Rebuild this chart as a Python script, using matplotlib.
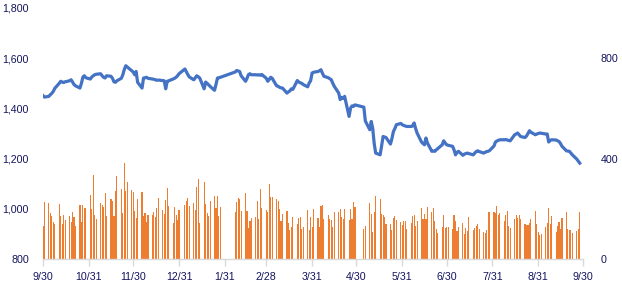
import numpy as np
import pandas as pd
import matplotlib
matplotlib.use("Agg")
import matplotlib.pyplot as plt
import matplotlib.ticker as mticker

plt.rcParams["font.family"] = ["Liberation Sans", "DejaVu Sans"]

# trading calendar: weekdays minus market holidays
start_date = "2021-09-30"
end_date = "2022-09-28"
holidays = ["2022-01-03", "2022-01-31", "2022-02-01", "2022-02-02", "2022-02-03",
            "2022-02-04", "2022-05-02", "2022-05-03", "2022-05-04"]

# closing price (left axis), one row per week
price = [
    1451, 1445,
    1448, 1455, 1460, 1468, 1480,
    1500, 1508, 1505, 1503, 1506,
    1510, 1514, 1505, 1495, 1490,
    1481, 1500, 1525, 1530, 1522,
    1517, 1525, 1530, 1534, 1536,
    1538, 1530, 1524, 1521, 1530,
    1528, 1520, 1506, 1504, 1510,
    1520, 1534, 1555, 1570, 1565,
    1550, 1545, 1534, 1547, 1504,
    1481, 1521, 1522, 1524, 1520,
    1517, 1516, 1514, 1512, 1513,
    1511, 1510, 1478, 1508, 1510,
    1517, 1520, 1524, 1530, 1538,
    1557, 1545, 1534, 1525,
    1514, 1522, 1530, 1526, 1521,
    1478, 1505, 1500, 1494, 1488,
    1472, 1495, 1521, 1522, 1524,
    1545, 1551, 1549, 1547, 1530,
    1508, 1520, 1535, 1538, 1534,
    1534, 1533, 1534, 1532, 1535,
    1520, 1508, 1515, 1524, 1520,
    1490, 1488, 1484, 1482, 1481,
    1461, 1466, 1470, 1478, 1476,
    1511, 1505, 1502, 1500, 1495,
    1486, 1501, 1510, 1541, 1544,
    1547, 1550, 1554, 1540, 1528,
    1522, 1518, 1514, 1500, 1488,
    1461, 1435, 1444, 1440, 1448,
    1368, 1401, 1410, 1408, 1414,
    1405, 1350,
    1315, 1348, 1320, 1260, 1222,
    1215, 1250, 1288, 1286, 1284,
    1258, 1280, 1308, 1320, 1335,
    1340, 1335, 1332, 1330, 1328,
    1328, 1330, 1342, 1320, 1302,
    1266, 1260, 1255, 1282, 1262,
    1229, 1230, 1229, 1235, 1240,
    1255, 1271, 1262, 1255, 1253,
    1249, 1235, 1215, 1225, 1229,
    1213, 1218, 1220, 1222, 1220,
    1215, 1222, 1228, 1231, 1228,
    1222, 1225, 1228, 1229, 1232,
    1250, 1266, 1270, 1273, 1275,
    1275, 1276, 1274, 1272, 1271,
    1295, 1298, 1302, 1295, 1288,
    1284, 1290, 1300, 1311, 1305,
    1295, 1298, 1300, 1302, 1301,
    1298, 1298, 1266, 1272, 1275,
    1274, 1271, 1268, 1260, 1249,
    1231, 1230, 1229, 1222, 1215,
    1198, 1190, 1182,
]

# volume (right axis), same rows
volume = [
    131, 227,
    223, 183, 170, 147, 139,
    219, 170, 139, 175, 155,
    171, 147, 187, 167, 131,
    215, 147, 215, 203, 203,
    255, 199, 334, 175, 159,
    223, 215, 207, 263, 171,
    239, 231, 171, 271, 330,
    279, 183, 382, 271, 307,
    275, 267, 191, 163, 239,
    267, 171, 183, 147, 175,
    175, 187, 167, 203, 243,
    195, 179, 235, 283, 211,
    143, 207, 175, 155, 195,
    215, 231, 243, 211,
    223, 195, 287, 318, 143,
    307, 219, 183, 171, 231,
    251, 203, 251, 171, 207,
    187, 227, 243, 239, 191,
    263, 191, 123, 151, 163,
    167, 231, 159, 279, 203,
    195, 187, 299, 247, 247,
    239, 231, 199, 151, 179,
    191, 143, 115, 127, 167,
    139, 163, 167, 119, 127,
    195, 115, 167, 127, 199,
    163, 127, 211, 215, 159,
    175, 159, 155, 127, 187,
    187, 199, 167, 159, 199,
    155, 199, 159, 227, 207,
    119, 131,
    223, 179, 107, 187, 251,
    240, 179, 175, 167, 139,
    139, 115, 163, 171, 155,
    147, 135, 151, 151, 119,
    143, 171, 175, 131, 151,
    203, 159, 179, 159, 207,
    187, 203, 151, 119, 103,
    127, 175, 123, 127, 127,
    119, 175, 151, 111, 127,
    143, 100, 123, 111, 167,
    115, 123, 131, 139, 119,
    107, 103, 115, 187, 187,
    187, 183, 211, 175, 183,
    151, 175, 191, 131, 123,
    159, 175, 163, 175, 159,
    139, 135, 135, 143, 159,
    191, 139, 107, 95, 100,
    127, 143, 203, 139, 171,
    107, 131, 147, 119, 163,
    187, 119, 115, 115, 103,
    112, 120, 187,
]

dates = pd.bdate_range(start_date, end_date)
dates = dates[~dates.isin(pd.to_datetime(holidays))]
df = pd.DataFrame({"price": price, "volume": volume}, index=dates)

tick_dates = pd.date_range("2021-09-30", "2022-09-30", freq="ME")

text_col = "#14145e"
line_col = "#4472C4"
bar_col = "#ED7D31"
axis_col = "#d9d9d9"

fig = plt.figure(figsize=(6.22, 3.05), dpi=100)
ax2 = fig.add_axes([0.0691, 0.1508, 0.8677, 0.823])
ax = ax2.twinx()
ax.yaxis.tick_left()
ax2.yaxis.tick_right()

ax2.bar(df.index, df["volume"], width=0.75, color=bar_col, linewidth=0)
ax.plot(df.index, df["price"], color=line_col, linewidth=2.3, solid_joinstyle="round")

ax.set_ylim(800, 1800)
ax.yaxis.set_major_locator(mticker.MultipleLocator(200))
ax.yaxis.set_major_formatter(mticker.StrMethodFormatter("{x:,.0f}"))
ax2.set_ylim(0, 1000)
ax2.set_yticks([0, 400, 800])

ax2.set_xlim(tick_dates[0], tick_dates[-1])
ax2.set_xticks(tick_dates)
ax2.set_xticklabels([f"{d.month}/{d.day}" for d in tick_dates])

for a in (ax, ax2):
    for s in a.spines.values():
        s.set_visible(False)
ax2.spines["bottom"].set_visible(True)
ax2.spines["bottom"].set_color(axis_col)
ax2.spines["bottom"].set_linewidth(1.0)

ax.tick_params(axis="y", length=0, pad=10, labelsize=7.7, labelcolor=text_col)
ax2.tick_params(axis="y", length=0, pad=13, labelsize=7.7, labelcolor=text_col)
ax2.tick_params(axis="x", length=5, width=1, color=axis_col, pad=4,
                labelsize=7.7, labelcolor=text_col)

fig.savefig("out.png", dpi=100)
